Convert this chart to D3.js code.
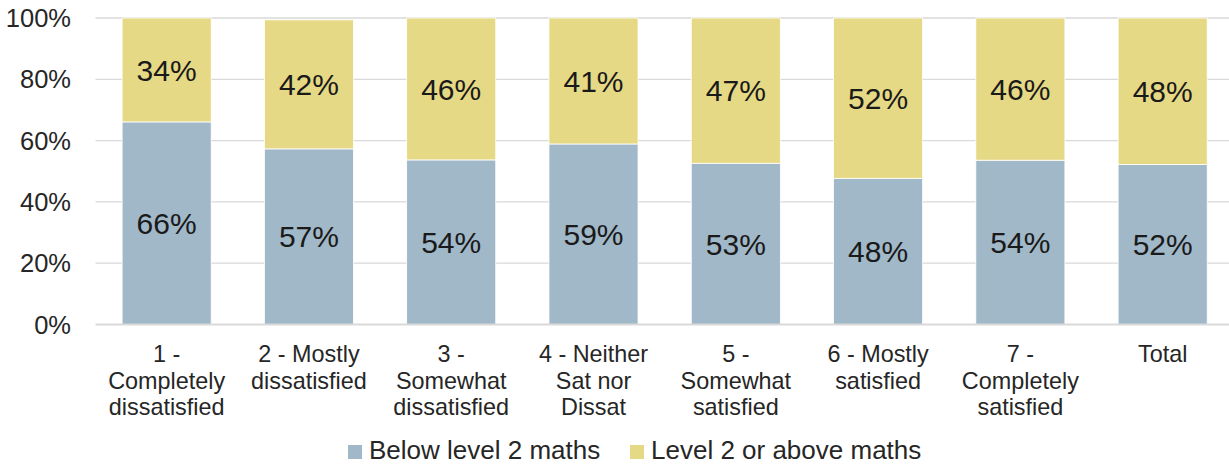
<!DOCTYPE html>
<html><head><meta charset="utf-8">
<script src="https://cdn.jsdelivr.net/npm/d3@7"></script>
<style>body{margin:0;background:#fff}svg{display:block;font-family:"Liberation Sans",Arial,sans-serif}</style>
</head><body><svg id="c" width="1229" height="465"></svg>
<script>
const categories = [
  ["1 -","Completely","dissatisfied"],
  ["2 - Mostly","dissatisfied"],
  ["3 -","Somewhat","dissatisfied"],
  ["4 - Neither","Sat nor","Dissat"],
  ["5 -","Somewhat","satisfied"],
  ["6 - Mostly","satisfied"],
  ["7 -","Completely","satisfied"],
  ["Total"]
];
const seriesNames = ["Below level 2 maths", "Level 2 or above maths"];
const belowL2 = [66.1, 57.3, 53.7, 58.9, 52.6, 47.7, 53.6, 52.2];
const aboveL2 = [33.9, 42.1, 46.3, 41.1, 47.4, 52.3, 46.4, 47.8];
const yTicks = [0, 20, 40, 60, 80, 100];
const colors = ["#a1b8c8", "#e6d985"];

const svg = d3.select("#c");
const pLeft = 95.5, pRight = 1233.8, pTop = 18, pBottom = 324.5;
const keys = categories.map((c, i) => i);
const x = d3.scaleBand().domain(keys).range([pLeft, pRight]).paddingInner(0.374).paddingOuter(0.187);
const y = d3.scaleLinear().domain([0, 100]).range([pBottom, pTop]);

// grid
svg.append("g").selectAll("line").data(yTicks.filter(t => t > 0)).join("line")
  .attr("x1", pLeft).attr("x2", pRight).attr("y1", d => y(d)).attr("y2", d => y(d))
  .attr("stroke", "#d9d9d9").attr("stroke-width", 1.3);

// y labels
svg.append("g").selectAll("text").data(yTicks).join("text")
  .attr("x", 71).attr("y", d => y(d)).attr("dy", "0.358em").attr("text-anchor", "end")
  .attr("font-size", 25.5).attr("fill", "#262626").text(d => d + "%");

const rows = keys.map(i => ({i, b: belowL2[i], a: aboveL2[i]}));
const stack = d3.stack().keys(["b", "a"])(rows);

const fmt = v => Math.round(v) + "%";
stack.forEach((s, si) => {
  const g = svg.append("g");
  g.selectAll("rect").data(s).join("rect")
    .attr("x", d => x(d.data.i)).attr("width", x.bandwidth())
    .attr("y", d => y(d[1])).attr("height", d => y(d[0]) - y(d[1]))
    .attr("fill", colors[si]).attr("stroke", "#fff").attr("stroke-width", 0.8);
  g.selectAll("text").data(s).join("text")
    .attr("x", d => x(d.data.i) + x.bandwidth() / 2)
    .attr("y", d => (y(d[0]) + y(d[1])) / 2).attr("dy", "0.358em")
    .attr("text-anchor", "middle").attr("font-size", 30).attr("fill", "#1a1a1a")
    .text(d => fmt(d[1] - d[0]));
});

// x axis line
svg.append("line").attr("x1", pLeft).attr("x2", pRight).attr("y1", pBottom).attr("y2", pBottom)
  .attr("stroke", "#d9d9d9").attr("stroke-width", 2);

// category labels
const cg = svg.append("g");
categories.forEach((lines, i) => {
  const t = cg.append("text").attr("text-anchor", "middle").attr("font-size", 23.4).attr("fill", "#262626");
  lines.forEach((l, j) => t.append("tspan").attr("x", x(i) + x.bandwidth() / 2).attr("y", 361.6 + j * 26.9).text(l));
});

// legend
const lg = svg.append("g");
const legX = [348, 630];
seriesNames.forEach((n, i) => {
  lg.append("rect").attr("x", legX[i]).attr("y", 445).attr("width", 14).attr("height", 14).attr("fill", colors[i]);
  lg.append("text").attr("x", legX[i] + 21).attr("y", 459.3)
    .attr("font-size", 26).attr("fill", "#262626").text(n);
});
</script></body></html>
